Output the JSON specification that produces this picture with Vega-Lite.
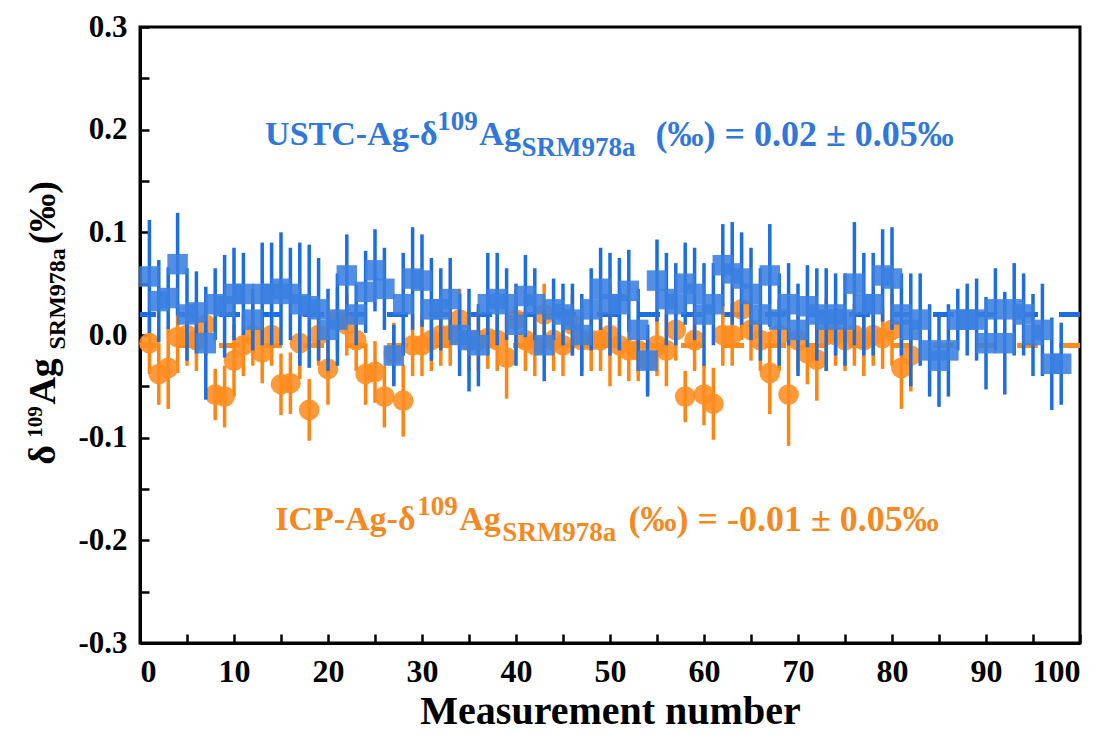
{
  "$schema": "https://vega.github.io/schema/vega-lite/v6.json",
  "width": 940,
  "height": 616,
  "autosize": {"type": "none"},
  "padding": {"left": 140, "top": 27, "right": 29, "bottom": 92},
  "background": "white",
  "config": {
    "view": {"stroke": "black", "strokeWidth": 3},
    "font": "Liberation Serif",
    "axis": {
      "domainColor": "black", "domainWidth": 3, "tickColor": "black", "tickWidth": 2.5,
      "labelFont": "Liberation Serif", "labelFontWeight": "bold", "labelFontSize": 31, "labelColor": "black",
      "titleFont": "Liberation Serif", "titleFontWeight": "bold", "titleColor": "black", "grid": false
    }
  },
  "datasets": {
    "ustc": [
      {"n":1,"v":0.057,"e":0.055},{"n":2,"v":0.033,"e":0.04},{"n":3,"v":0.036,"e":0.03},{"n":4,"v":0.069,"e":0.05},
      {"n":5,"v":0.02,"e":0.045},{"n":6,"v":0.022,"e":0.04},{"n":7,"v":-0.008,"e":0.055},{"n":8,"v":0.03,"e":0.035},
      {"n":9,"v":0.028,"e":0.05},{"n":10,"v":0.04,"e":0.045},{"n":11,"v":0.04,"e":0.04},{"n":12,"v":0.015,"e":0.03},
      {"n":13,"v":0.04,"e":0.05},{"n":14,"v":0.04,"e":0.05},{"n":15,"v":0.045,"e":0.055},{"n":16,"v":0.04,"e":0.045},
      {"n":17,"v":0.03,"e":0.06},{"n":18,"v":0.028,"e":0.06},{"n":19,"v":0.025,"e":0.05},{"n":20,"v":0.005,"e":0.04},
      {"n":21,"v":0.015,"e":0.045},{"n":22,"v":0.058,"e":0.04},{"n":23,"v":0.02,"e":0.03},{"n":24,"v":0.042,"e":0.04},
      {"n":25,"v":0.063,"e":0.04},{"n":26,"v":0.045,"e":0.04},{"n":27,"v":-0.02,"e":0.03},{"n":28,"v":0.03,"e":0.05},
      {"n":29,"v":0.055,"e":0.05},{"n":30,"v":0.053,"e":0.045},{"n":31,"v":0.025,"e":0.05},{"n":32,"v":0.025,"e":0.04},
      {"n":33,"v":0.035,"e":0.04},{"n":34,"v":0.0,"e":0.04},{"n":35,"v":-0.005,"e":0.05},{"n":36,"v":-0.01,"e":0.04},
      {"n":37,"v":0.03,"e":0.05},{"n":38,"v":0.035,"e":0.045},{"n":39,"v":0.03,"e":0.035},{"n":40,"v":0.01,"e":0.04},
      {"n":41,"v":0.038,"e":0.04},{"n":42,"v":0.03,"e":0.035},{"n":43,"v":-0.01,"e":0.035},{"n":44,"v":0.025,"e":0.03},
      {"n":45,"v":0.02,"e":0.03},{"n":46,"v":0.015,"e":0.035},{"n":47,"v":0.0,"e":0.04},{"n":48,"v":0.025,"e":0.04},
      {"n":49,"v":0.045,"e":0.04},{"n":50,"v":0.03,"e":0.05},{"n":51,"v":0.03,"e":0.045},{"n":52,"v":0.043,"e":0.04},
      {"n":53,"v":0.005,"e":0.04},{"n":54,"v":-0.025,"e":0.035},{"n":55,"v":0.053,"e":0.04},{"n":56,"v":0.035,"e":0.045},
      {"n":57,"v":0.03,"e":0.04},{"n":58,"v":0.05,"e":0.04},{"n":59,"v":0.04,"e":0.045},{"n":60,"v":0.02,"e":0.05},
      {"n":61,"v":0.03,"e":0.04},{"n":62,"v":0.068,"e":0.04},{"n":63,"v":0.06,"e":0.05},{"n":64,"v":0.055,"e":0.045},
      {"n":65,"v":0.04,"e":0.045},{"n":66,"v":0.02,"e":0.045},{"n":67,"v":0.058,"e":0.05},{"n":68,"v":0.015,"e":0.045},
      {"n":69,"v":0.03,"e":0.04},{"n":70,"v":0.005,"e":0.045},{"n":71,"v":0.028,"e":0.04},{"n":72,"v":0.02,"e":0.045},
      {"n":73,"v":0.015,"e":0.05},{"n":74,"v":0.02,"e":0.04},{"n":75,"v":0.015,"e":0.045},{"n":76,"v":0.05,"e":0.06},
      {"n":77,"v":0.03,"e":0.05},{"n":78,"v":0.03,"e":0.05},{"n":79,"v":0.058,"e":0.045},{"n":80,"v":0.055,"e":0.05},
      {"n":81,"v":0.02,"e":0.04},{"n":82,"v":0.005,"e":0.055},{"n":83,"v":0.015,"e":0.045},{"n":84,"v":-0.015,"e":0.045},
      {"n":85,"v":-0.025,"e":0.045},{"n":86,"v":-0.015,"e":0.045},{"n":87,"v":0.015,"e":0.03},{"n":88,"v":0.015,"e":0.035},
      {"n":89,"v":0.015,"e":0.04},{"n":90,"v":-0.008,"e":0.045},{"n":91,"v":0.025,"e":0.04},{"n":92,"v":-0.008,"e":0.05},
      {"n":93,"v":0.025,"e":0.045},{"n":94,"v":0.02,"e":0.04},{"n":95,"v":0.0,"e":0.04},{"n":96,"v":0.005,"e":0.045},
      {"n":97,"v":-0.028,"e":0.045},{"n":98,"v":-0.028,"e":0.04}
    ],
    "icp": [
      {"n":1,"v":-0.008,"e":0.03},{"n":2,"v":-0.038,"e":0.03},{"n":3,"v":-0.032,"e":0.04},{"n":4,"v":-0.002,"e":0.035},
      {"n":5,"v":0.0,"e":0.03},{"n":6,"v":-0.005,"e":0.03},{"n":7,"v":0.01,"e":0.03},{"n":8,"v":-0.058,"e":0.025},
      {"n":9,"v":-0.06,"e":0.03},{"n":10,"v":-0.025,"e":0.035},{"n":11,"v":-0.01,"e":0.03},{"n":12,"v":0.0,"e":0.03},
      {"n":13,"v":-0.017,"e":0.03},{"n":14,"v":0.0,"e":0.03},{"n":15,"v":-0.048,"e":0.03},{"n":16,"v":-0.047,"e":0.03},
      {"n":17,"v":-0.008,"e":0.035},{"n":18,"v":-0.073,"e":0.03},{"n":19,"v":0.0,"e":0.03},{"n":20,"v":-0.033,"e":0.035},
      {"n":21,"v":0.015,"e":0.03},{"n":22,"v":0.01,"e":0.03},{"n":23,"v":-0.005,"e":0.03},{"n":24,"v":-0.038,"e":0.03},
      {"n":25,"v":-0.036,"e":0.03},{"n":26,"v":-0.06,"e":0.03},{"n":27,"v":-0.018,"e":0.03},{"n":28,"v":-0.064,"e":0.035},
      {"n":29,"v":-0.01,"e":0.03},{"n":30,"v":-0.01,"e":0.03},{"n":31,"v":-0.005,"e":0.03},{"n":32,"v":0.0,"e":0.03},
      {"n":33,"v":0.0,"e":0.03},{"n":34,"v":0.015,"e":0.03},{"n":35,"v":-0.005,"e":0.03},{"n":36,"v":-0.005,"e":0.03},
      {"n":37,"v":-0.003,"e":0.03},{"n":38,"v":-0.005,"e":0.03},{"n":39,"v":-0.022,"e":0.04},{"n":40,"v":0.015,"e":0.03},
      {"n":41,"v":-0.005,"e":0.03},{"n":42,"v":-0.01,"e":0.03},{"n":43,"v":0.02,"e":0.03},{"n":44,"v":-0.005,"e":0.03},
      {"n":45,"v":-0.01,"e":0.03},{"n":46,"v":0.01,"e":0.03},{"n":47,"v":-0.005,"e":0.03},{"n":48,"v":-0.005,"e":0.03},
      {"n":49,"v":-0.005,"e":0.03},{"n":50,"v":0.0,"e":0.05},{"n":51,"v":-0.01,"e":0.03},{"n":52,"v":-0.015,"e":0.03},
      {"n":53,"v":-0.015,"e":0.03},{"n":54,"v":-0.025,"e":0.03},{"n":55,"v":-0.01,"e":0.03},{"n":56,"v":-0.015,"e":0.035},
      {"n":57,"v":0.005,"e":0.03},{"n":58,"v":-0.06,"e":0.025},{"n":59,"v":-0.005,"e":0.03},{"n":60,"v":-0.058,"e":0.03},
      {"n":61,"v":-0.067,"e":0.035},{"n":62,"v":0.0,"e":0.03},{"n":63,"v":0.0,"e":0.03},{"n":64,"v":0.025,"e":0.03},
      {"n":65,"v":0.005,"e":0.03},{"n":66,"v":-0.005,"e":0.03},{"n":67,"v":-0.037,"e":0.04},{"n":68,"v":0.0,"e":0.035},
      {"n":69,"v":-0.058,"e":0.05},{"n":70,"v":-0.005,"e":0.03},{"n":71,"v":-0.018,"e":0.03},{"n":72,"v":-0.024,"e":0.04},
      {"n":73,"v":0.0,"e":0.035},{"n":74,"v":0.0,"e":0.03},{"n":75,"v":-0.005,"e":0.03},{"n":76,"v":0.0,"e":0.03},
      {"n":77,"v":-0.005,"e":0.035},{"n":78,"v":0.0,"e":0.03},{"n":79,"v":-0.003,"e":0.03},{"n":80,"v":0.005,"e":0.035},
      {"n":81,"v":-0.032,"e":0.04},{"n":82,"v":-0.02,"e":0.035}
    ],
    "txtMain": [
      {"x":13.31,"y":0.195,"t":"USTC-Ag-δ","g":"USTC"},
      {"x":36.1,"y":0.195,"t":"Ag","g":"USTC"},
      {"x":14.38,"y":-0.18,"t":"ICP-Ag-δ","g":"ICP"},
      {"x":33.97,"y":-0.18,"t":"Ag","g":"ICP"}
    ],
    "txtTail": [
      {"x":54.85,"y":0.195,"t":"(‰) = 0.02 ± 0.05‰","g":"USTC"},
      {"x":51.97,"y":-0.18,"t":"(‰) = -0.01 ± 0.05‰","g":"ICP"}
    ],
    "txtSup": [
      {"x":31.63,"y":0.195,"t":"109","g":"USTC"},
      {"x":29.5,"y":-0.18,"t":"109","g":"ICP"}
    ],
    "txtSub": [
      {"x":40.58,"y":0.195,"t":"SRM978a","g":"USTC"},
      {"x":38.55,"y":-0.18,"t":"SRM978a","g":"ICP"}
    ],
    "ytMain": [
      {"x":-9.05,"y":-0.1263,"t":"δ"},
      {"x":-9.05,"y":-0.0678,"t":"Ag"},
      {"x":-9.05,"y":0.0883,"t":"(‰)"}
    ],
    "ytSup": [{"x":-10.4,"y":-0.1,"t":"109"}],
    "ytSub": [{"x":-8.0,"y":-0.0141,"t":"SRM978a"}]
  },
  "layer": [
    {
      "data": {"name": "icp"},
      "mark": {"type": "rule", "color": "#ff8a1c", "strokeWidth": 4, "strokeDash": [21, 21]},
      "encoding": {"y": {"datum": -0.01, "type": "quantitative", "scale": {"domain": [-0.3, 0.3], "nice": false, "zero": false}}}
    },
    {
      "data": {"name": "ustc"},
      "mark": {"type": "rule", "color": "#1c6fe3", "strokeWidth": 4, "strokeDash": [21, 21]},
      "encoding": {"y": {"datum": 0.02, "type": "quantitative"}}
    },
    {
      "data": {"name": "icp"},
      "mark": {"type": "errorbar", "ticks": false, "thickness": 3.5, "color": "#ff8410"},
      "encoding": {
        "x": {"field": "n", "type": "quantitative"},
        "y": {"field": "v", "type": "quantitative"},
        "yError": {"field": "e"}
      }
    },
    {
      "data": {"name": "icp"},
      "mark": {"type": "point", "shape": "circle", "filled": true, "size": 430, "color": "#ff8c1f", "opacity": 0.88},
      "encoding": {
        "x": {"field": "n", "type": "quantitative"},
        "y": {"field": "v", "type": "quantitative"}
      }
    },
    {
      "data": {"name": "ustc"},
      "mark": {"type": "errorbar", "ticks": false, "thickness": 3.5, "color": "#1a6de2"},
      "encoding": {
        "x": {"field": "n", "type": "quantitative"},
        "y": {"field": "v", "type": "quantitative"},
        "yError": {"field": "e"}
      }
    },
    {
      "data": {"name": "ustc"},
      "mark": {"type": "point", "shape": "square", "filled": true, "size": 420, "color": "#3a7fe0", "opacity": 0.88},
      "encoding": {
        "x": {
          "field": "n", "type": "quantitative",
          "scale": {"domain": [0, 100], "nice": false, "zero": false},
          "axis": {
            "values": [0,5,10,15,20,25,30,35,40,45,50,55,60,65,70,75,80,85,90,95,100],
            "labelExpr": "datum.value % 10 == 0 ? datum.label : ''",
            "tickSize": -9, "labelPadding": 22, "labelFontSize": 32,
            "title": "Measurement number", "titleFontSize": 40, "titlePadding": 4
          }
        },
        "y": {
          "field": "v", "type": "quantitative",
          "axis": {
            "values": [-0.3,-0.25,-0.2,-0.15,-0.1,-0.05,0,0.05,0.1,0.15,0.2,0.25,0.3],
            "labelExpr": "abs(datum.value*10 - round(datum.value*10)) < 0.01 ? replace(format(datum.value, '.1f'), '−', '-') : ''",
            "tickSize": -9, "labelPadding": 22, "title": null
          }
        }
      }
    },
    {
      "data": {"name": "txtMain"},
      "mark": {"type": "text", "align": "left", "baseline": "middle", "font": "Liberation Serif", "fontWeight": "bold", "fontSize": 34},
      "encoding": {
        "x": {"field": "x", "type": "quantitative"},
        "y": {"field": "y", "type": "quantitative"},
        "text": {"field": "t"},
        "color": {"field": "g", "type": "nominal", "scale": {"domain": ["USTC", "ICP"], "range": ["#2f77dc", "#f5891f"]}, "legend": null}
      }
    },
    {
      "data": {"name": "txtTail"},
      "mark": {"type": "text", "align": "left", "baseline": "middle", "font": "Liberation Serif", "fontWeight": "bold", "fontSize": 36},
      "encoding": {
        "x": {"field": "x", "type": "quantitative"},
        "y": {"field": "y", "type": "quantitative"},
        "text": {"field": "t"},
        "color": {"field": "g", "type": "nominal", "legend": null}
      }
    },
    {
      "data": {"name": "txtSup"},
      "mark": {"type": "text", "align": "left", "baseline": "middle", "dy": -13, "font": "Liberation Serif", "fontWeight": "bold", "fontSize": 27},
      "encoding": {
        "x": {"field": "x", "type": "quantitative"},
        "y": {"field": "y", "type": "quantitative"},
        "text": {"field": "t"},
        "color": {"field": "g", "type": "nominal", "legend": null}
      }
    },
    {
      "data": {"name": "txtSub"},
      "mark": {"type": "text", "align": "left", "baseline": "middle", "dy": 13, "font": "Liberation Serif", "fontWeight": "bold", "fontSize": 27},
      "encoding": {
        "x": {"field": "x", "type": "quantitative"},
        "y": {"field": "y", "type": "quantitative"},
        "text": {"field": "t"},
        "color": {"field": "g", "type": "nominal", "legend": null}
      }
    },
    {
      "data": {"name": "ytMain"},
      "mark": {"type": "text", "align": "left", "baseline": "alphabetic", "angle": 270, "font": "Liberation Serif", "fontWeight": "bold", "fontSize": 38, "color": "black"},
      "encoding": {
        "x": {"field": "x", "type": "quantitative"},
        "y": {"field": "y", "type": "quantitative"},
        "text": {"field": "t"}
      }
    },
    {
      "data": {"name": "ytSup"},
      "mark": {"type": "text", "align": "left", "baseline": "alphabetic", "angle": 270, "font": "Liberation Serif", "fontWeight": "bold", "fontSize": 21, "color": "black"},
      "encoding": {
        "x": {"field": "x", "type": "quantitative"},
        "y": {"field": "y", "type": "quantitative"},
        "text": {"field": "t"}
      }
    },
    {
      "data": {"name": "ytSub"},
      "mark": {"type": "text", "align": "left", "baseline": "alphabetic", "angle": 270, "font": "Liberation Serif", "fontWeight": "bold", "fontSize": 24, "color": "black"},
      "encoding": {
        "x": {"field": "x", "type": "quantitative"},
        "y": {"field": "y", "type": "quantitative"},
        "text": {"field": "t"}
      }
    }
  ]
}
